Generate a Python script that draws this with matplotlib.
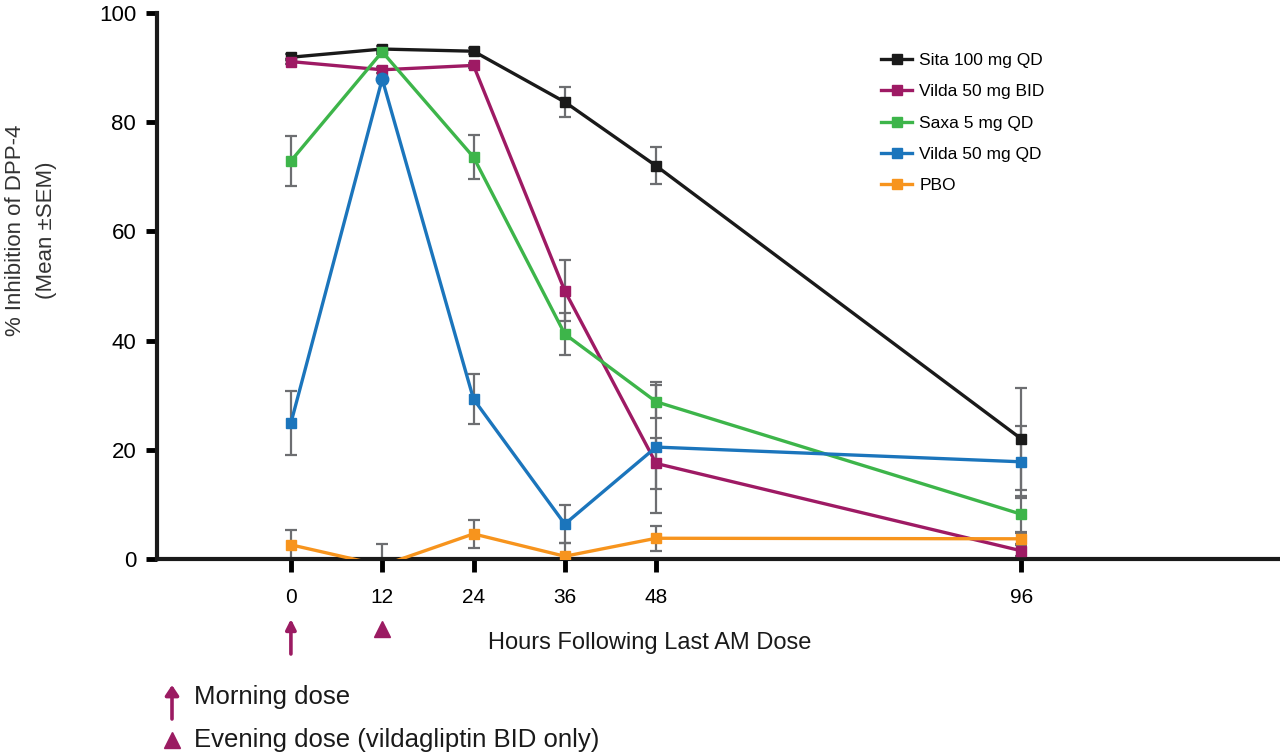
import matplotlib
matplotlib.use("Agg")
import matplotlib.pyplot as plt
import matplotlib.transforms as mtransforms

plt.rcParams["font.family"] = ["Liberation Sans", "DejaVu Sans"]

# %% data
hours = [0, 12, 24, 36, 48, 96]
tick_labels = ["0", "12", "24", "36", "48", "96"]

sita = [91.9, 93.4, 93.0, 83.7, 72.0, 22.0]
sita_err = [0.5, 0.5, 0.5, 2.7, 3.4, 9.3]
vilda_bid = [91.1, 89.6, 90.4, 49.1, 17.5, 1.5]
vilda_bid_err = [0.5, 0.5, 0.5, 5.6, 4.7, 1.0]
saxa = [72.9, 92.9, 73.6, 41.2, 28.8, 8.2]
saxa_err = [4.6, 0.5, 4.0, 3.8, 3.0, 3.3]
vilda_qd = [24.9, 87.9, 29.3, 6.4, 20.5, 17.8]
vilda_qd_err = [5.9, 0.0, 4.6, 3.5, 12.0, 6.6]
pbo = [2.6, -1.2, 4.6, 0.5, 3.8, 3.7]
pbo_err = [2.7, 3.9, 2.6, 2.4, 2.3, 1.0]

series = [
    ("Sita 100 mg QD", sita, sita_err, "#1a1a1a"),
    ("Vilda 50 mg BID", vilda_bid, vilda_bid_err, "#9e1a64"),
    ("Saxa 5 mg QD", saxa, saxa_err, "#3db54a"),
    ("Vilda 50 mg QD", vilda_qd, vilda_qd_err, "#1b75bc"),
    ("PBO", pbo, pbo_err, "#f7941d"),
]
dose_col = "#9b1b62"
err_col = "#6d6e71"

# %% figure
fig = plt.figure(figsize=(12.8, 7.53), dpi=100)
ax = fig.add_axes([157 / 1280, 1 - 559 / 753, 1 - 157 / 1280, (559 - 13) / 753])

for name, vals, errs, col in series:
    ax.errorbar(hours, vals, yerr=errs, fmt="none", ecolor=err_col,
                elinewidth=1.6, capsize=4, capthick=1.6, zorder=2)
    if name == "Vilda 50 mg QD":
        # the 12 h point is drawn as a circle
        ax.plot(hours, vals, color=col, lw=2.4, marker="s", ms=7.5,
                markevery=[0, 2, 3, 4, 5], label=name, zorder=3)
        ax.plot(hours[1], vals[1], color=col, marker="o", ms=9, zorder=3)
    else:
        ax.plot(hours, vals, color=col, lw=2.4, marker="s", ms=7.5,
                label=name, zorder=3)

ax.set_xlim(-17.6, 130)
ax.set_ylim(0, 100)
ax.set_xticks(hours)
ax.set_xticklabels(tick_labels, fontsize=15)
ax.set_yticks([0, 20, 40, 60, 80, 100])
ax.tick_params(axis="y", direction="out", length=8, width=3.5, pad=7, labelsize=16)
ax.tick_params(axis="x", direction="out", length=9, width=3.5, pad=12)
for s in ["top", "right"]:
    ax.spines[s].set_visible(False)
for s in ["left", "bottom"]:
    ax.spines[s].set_linewidth(3)
    ax.spines[s].set_color("#1a1a1a")

fig.text(31 / 1280, 1 - 230 / 753, "% Inhibition of DPP-4\n(Mean \u00b1SEM)",
         rotation=90, ha="center", va="center", fontsize=16, linespacing=1.6,
         color="#333333")
fig.text(650 / 1280, 1 - 643 / 753, "Hours Following Last AM Dose",
         ha="center", va="center", fontsize=17, color="#1a1a1a")

leg = ax.legend(loc="upper left", bbox_to_anchor=(881 / 1280, 1 - 53 / 753),
                bbox_transform=fig.transFigure, frameon=False, fontsize=12.5,
                handlelength=1.8, handletextpad=0.4, labelspacing=0.93,
                borderpad=0, borderaxespad=0)

# %% dose markers under the x axis
trans = mtransforms.blended_transform_factory(ax.transData, fig.transFigure)
ax.annotate("", xy=(hours[0], 1 - 619 / 753), xycoords=trans,
            xytext=(hours[0], 1 - 654 / 753), textcoords=trans,
            arrowprops=dict(arrowstyle="-|>,head_length=0.6,head_width=0.3",
                            color=dose_col, lw=2.6, shrinkA=0, shrinkB=0))
ax.plot([hours[1]], [1 - 629 / 753], marker="^", ms=12, color=dose_col,
        transform=trans, clip_on=False)

# %% key below
fig.add_artist(matplotlib.patches.FancyArrowPatch(
    (172 / 1280, 1 - 719 / 753), (172 / 1280, 1 - 685 / 753),
    transform=fig.transFigure, arrowstyle="-|>,head_length=6,head_width=4",
    color=dose_col, lw=2.6, shrinkA=0, shrinkB=0))
fig.text(194 / 1280, 1 - 697 / 753, "Morning dose", ha="left", va="center",
         fontsize=18.5, color="#1a1a1a")
fig.add_artist(matplotlib.lines.Line2D([172 / 1280], [1 - 740 / 753], marker="^",
                                       ms=12, color=dose_col,
                                       transform=fig.transFigure))
fig.text(194 / 1280, 1 - 740 / 753, "Evening dose (vildagliptin BID only)",
         ha="left", va="center", fontsize=18.5, color="#1a1a1a")

fig.savefig("out.png", dpi=100)
